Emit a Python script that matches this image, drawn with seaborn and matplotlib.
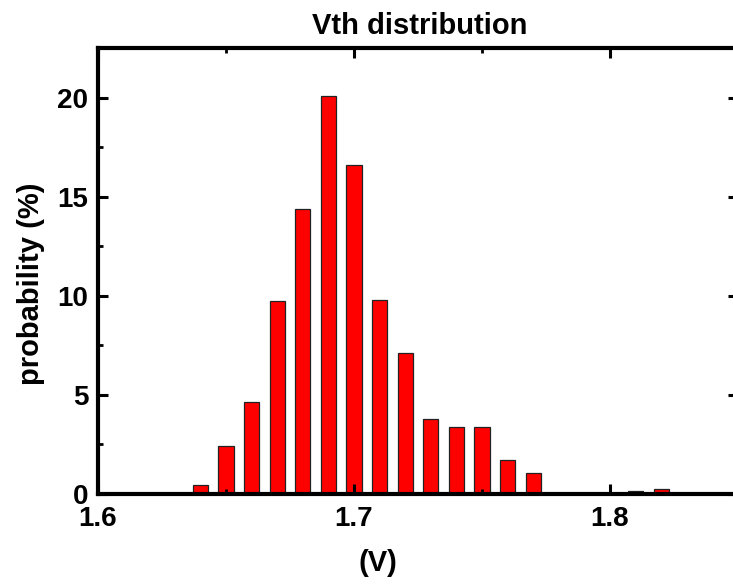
import matplotlib
matplotlib.use("Agg")
import matplotlib.pyplot as plt
import seaborn as sns
import pandas as pd
from matplotlib.ticker import MultipleLocator, FixedLocator

# ---- data ----
vth_centers = [1.64, 1.65, 1.66, 1.67, 1.68, 1.69, 1.70, 1.71, 1.72, 1.73,
               1.74, 1.75, 1.76, 1.77, 1.81, 1.82]
probability = [0.45, 2.4, 4.6, 9.72, 14.4, 20.1, 16.6, 9.8, 7.1, 3.75,
               3.35, 3.35, 1.7, 1.05, 0.15, 0.25]
x_major_ticks = [1.6, 1.7, 1.8]
x_tick_labels = ["1.6", "1.7", "1.8"]
y_major_ticks = [0, 5, 10, 15, 20]

df = pd.DataFrame({"V": vth_centers, "p": probability})

sns.set_theme(style="white")
plt.rcParams["font.family"] = ["Liberation Sans", "DejaVu Sans"]
plt.rcParams["font.weight"] = "bold"
plt.rcParams["text.color"] = "black"
plt.rcParams["axes.labelcolor"] = "black"
plt.rcParams["xtick.color"] = "black"
plt.rcParams["ytick.color"] = "black"

fig = plt.figure(figsize=(7.33, 5.88), dpi=100)
ax = fig.add_axes([0.1337, 0.1607, 0.8731, 0.7572])

sns.barplot(data=df, x="V", y="p", native_scale=True, width=0.6,
            color="#ff0000", saturation=1, edgecolor="#222222",
            linewidth=0.9, errorbar=None, ax=ax)

ax.set_axisbelow(False)
ax.set_xlim(1.6, 1.85)
ax.set_ylim(0, 22.5)
ax.xaxis.set_major_locator(FixedLocator(x_major_ticks))
ax.set_xticklabels(x_tick_labels)
ax.xaxis.set_minor_locator(MultipleLocator(0.05))
ax.yaxis.set_major_locator(FixedLocator(y_major_ticks))
ax.yaxis.set_minor_locator(MultipleLocator(2.5))

for s in ax.spines.values():
    s.set_visible(True)
    s.set_linewidth(3.0)
    s.set_color("black")
    s.set_zorder(5)

ax.tick_params(which="both", direction="in", top=True, right=True,
               left=True, bottom=True, color="black", labelcolor="black")
ax.tick_params(which="major", length=7.5, width=2.2, labelsize=20, pad=7)
ax.tick_params(which="minor", length=3.3, width=2.0)
ax.tick_params(axis="x", which="major", pad=9)
for lab in ax.get_xticklabels() + ax.get_yticklabels():
    lab.set_fontweight("bold")

ax.set_title("Vth distribution", fontsize=21, fontweight="bold", pad=10,
             x=0.503, color="black")
ax.set_xlabel("(V)", fontsize=21, fontweight="bold", color="black")
ax.xaxis.set_label_coords(0.4375, -0.125)
ax.set_ylabel("probability (%)", fontsize=21, fontweight="bold",
              color="black")
ax.yaxis.set_label_coords(-0.083, 0.47)

fig.savefig("out.png", dpi=100)
